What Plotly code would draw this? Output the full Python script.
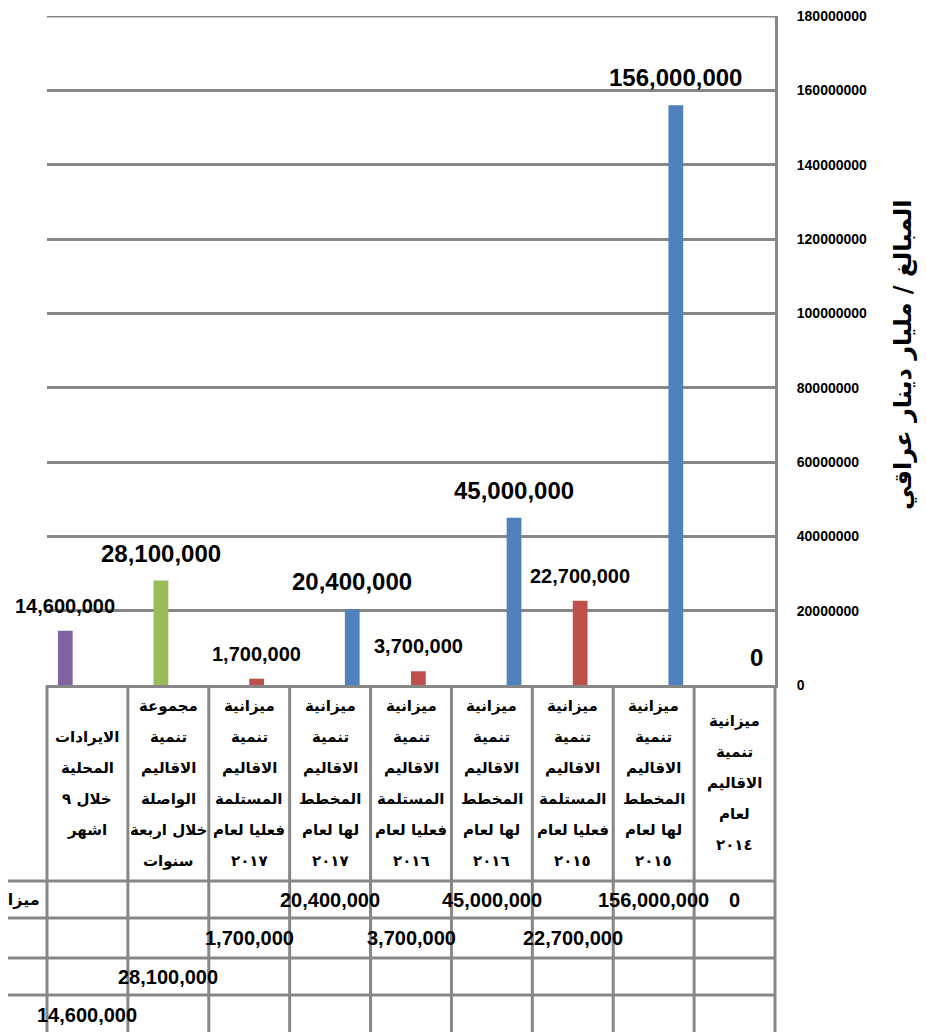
import plotly.graph_objects as go

# categories, listed right to left as in the original (index 0 is the rightmost column)
category_labels = [
    "ميزانية<br>تنمية<br>الاقاليم<br>لعام<br>٢٠١٤",
    "ميزانية<br>تنمية<br>الاقاليم<br>المخطط<br>لها لعام<br>٢٠١٥",
    "ميزانية<br>تنمية<br>الاقاليم<br>المستلمة<br>فعليا لعام<br>٢٠١٥",
    "ميزانية<br>تنمية<br>الاقاليم<br>المخطط<br>لها لعام<br>٢٠١٦",
    "ميزانية<br>تنمية<br>الاقاليم<br>المستلمة<br>فعليا لعام<br>٢٠١٦",
    "ميزانية<br>تنمية<br>الاقاليم<br>المخطط<br>لها لعام<br>٢٠١٧",
    "ميزانية<br>تنمية<br>الاقاليم<br>المستلمة<br>فعليا لعام<br>٢٠١٧",
    "مجموعة<br>تنمية<br>الاقاليم<br>الواصلة<br>خلال اربعة<br>سنوات",
    "الايرادات<br>المحلية<br>خلال ٩<br>اشهر",
]

planned_budget = [0, 156000000, None, 45000000, None, 20400000, None, None, None]
received_budget = [None, None, 22700000, None, 3700000, None, 1700000, None, None]
four_year_total = [None, None, None, None, None, None, None, 28100000, None]
local_revenue = [None, None, None, None, None, None, None, None, 14600000]

series_names = ["ميزانية تنمية الاقاليم", "المستلمة فعليا", "مجموعة تنمية الاقاليم", "الايرادات المحلية"]
series_values = [planned_budget, received_budget, four_year_total, local_revenue]

y_title = "المبالغ / مليار دينار عراقي"
y_max = 180000000
y_step = 20000000

# ---- styling
colors = ["#4F81BD", "#C0504D", "#9BBB59", "#8064A2"]
label_sizes = [24, 20, 24, 20]
GRID = "#878787"
FONT = "Liberation Sans, Arial, DejaVu Sans"
AR_FONT = "DejaVu Sans"
BARGAP = 0.27

# the page body has an 8px margin, so the figure is drawn 8px smaller
PAGE = 8
W, H = 926 - PAGE, 1032 - PAGE
L, R, T, B = 47 - PAGE, 151, 16 - PAGE, 347
plot_w = W - L - R
plot_h = H - T - B
plot_bottom = 685  # in window pixels


def py(px):
    return (plot_bottom - px) / plot_h


def pxx(px):
    return (px - 47) / plot_w


categories = [c.replace("<br>", " ") for c in category_labels]
n = len(categories)
slot = (1 - BARGAP) / len(series_values)

fig = go.Figure()
for name, vals, color in zip(series_names, series_values, colors):
    fig.add_trace(go.Bar(x=categories, y=vals, name=name,
                         marker=dict(color=color, line=dict(width=0))))

annotations = []

# value labels above the bars
for k, vals in enumerate(series_values):
    for i, v in enumerate(vals):
        if v is None:
            continue
        annotations.append(dict(
            x=i + (k - 1.5) * slot, y=v, xref="x", yref="y",
            text=f"{v:,}", showarrow=False, yanchor="bottom", yshift=12,
            font=dict(family=FONT, size=label_sizes[k], color="black", weight="bold")))

# data table: header cells (one annotation per line so the spacing matches)
header_mid = (plot_bottom + 881) / 2
line_step = 31
for i, lab in enumerate(category_labels):
    lines = lab.split("<br>")
    for j, line in enumerate(lines):
        ypx = header_mid + (j - (len(lines) - 1) / 2) * line_step
        annotations.append(dict(
            x=i, y=py(ypx), xref="x", yref="paper", text=line, showarrow=False,
            xanchor="center", yanchor="middle",
            font=dict(family=AR_FONT, size=15, color="black", weight="bold")))

# data table: value rows
row_edges = [881, 918, 958, 995, 1034]
for k, vals in enumerate(series_values):
    ymid = (row_edges[k] + row_edges[k + 1]) / 2
    for i, v in enumerate(vals):
        if v is None:
            continue
        annotations.append(dict(
            x=i, y=py(ymid), xref="x", yref="paper", text=f"{v:,}",
            showarrow=False, xanchor="center", yanchor="middle",
            font=dict(family=FONT, size=20, color="black", weight="bold")))

# first row caption, cut by the left edge as in the original
annotations.append(dict(
    x=pxx(42), y=py((row_edges[0] + row_edges[1]) / 2), xref="paper", yref="paper",
    text=series_names[0], showarrow=False, xanchor="right", yanchor="middle",
    font=dict(family=AR_FONT, size=16, color="black", weight="bold")))

# y axis title
annotations.append(dict(
    x=pxx(903), y=py(355), xref="paper", yref="paper", text=y_title,
    showarrow=False, textangle=-90, xanchor="center", yanchor="middle",
    font=dict(family=AR_FONT, size=24, color="black", weight="bold")))

# table grid and top gridline
shapes = [dict(type="line", xref="paper", yref="y", x0=0, x1=1, y0=y_max, y1=y_max,
               line=dict(color=GRID, width=3))]
for e in row_edges[:-1]:
    shapes.append(dict(type="line", xref="paper", yref="paper",
                       x0=pxx(0), x1=1, y0=py(e), y1=py(e),
                       line=dict(color=GRID, width=3)))
for k in range(n + 1):
    shapes.append(dict(type="line", xref="paper", yref="paper",
                       x0=k / n, x1=k / n, y0=0, y1=py(1045),
                       line=dict(color=GRID, width=3)))

fig.update_layout(
    width=W, height=H,
    margin=dict(l=L, r=R, t=T, b=B),
    barmode="group", bargap=BARGAP, bargroupgap=0,
    showlegend=False,
    plot_bgcolor="white", paper_bgcolor="white",
    xaxis=dict(type="category", range=[n - 0.5, -0.5], showticklabels=False,
               showline=True, linecolor=GRID, linewidth=3, showgrid=False, ticks="",
               automargin=False),
    yaxis=dict(side="right", range=[0, y_max], dtick=y_step, tickformat="d",
               showgrid=True, gridcolor=GRID, gridwidth=3, zeroline=False,
               showline=True, linecolor=GRID, linewidth=3, ticks="",
               ticklabelstandoff=16, ticklabeloverflow="allow", automargin=False,
               tickfont=dict(family=FONT, size=14, color="black", weight="bold")),
    annotations=annotations,
    shapes=shapes,
)

fig.write_html("out.html")
